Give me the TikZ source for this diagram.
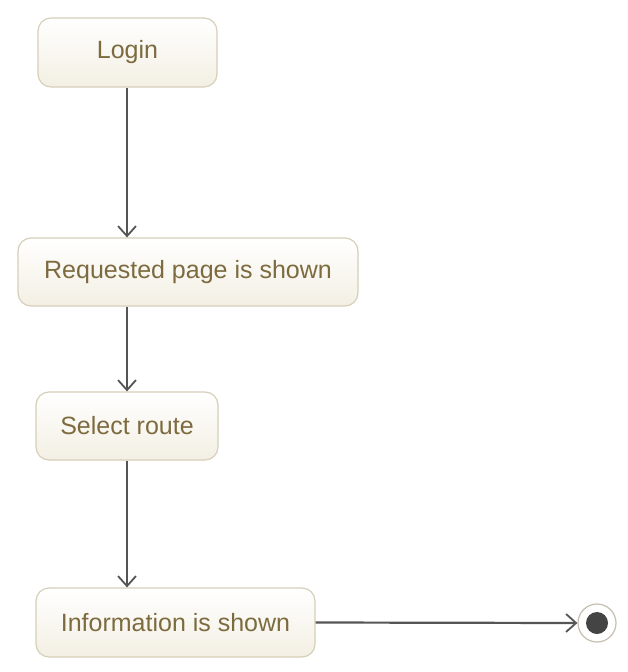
\documentclass[tikz,border=0pt]{standalone}
\usepackage{fontspec}
\setmainfont{Liberation Sans}
\usetikzlibrary{arrows.meta}
\definecolor{txt}{HTML}{7D6B3F}
\definecolor{bord}{HTML}{D6CFB9}
\definecolor{fillA}{HTML}{FFFFFF}
\definecolor{fillB}{HTML}{F3EFE3}
\definecolor{arr}{HTML}{555555}
\definecolor{dot}{HTML}{444444}
\tikzset{
  state/.style={draw=bord, line width=1.2pt, rounded corners=13pt, top color=fillA, bottom color=fillB,
    text=txt, font=\fontsize{25}{29}\selectfont, inner sep=0pt, anchor=center},
  flow/.style={draw=arr, line width=2.2pt, -{Straight Barb[length=10pt,width=18pt,line width=1.8pt]}},
}
\begin{document}
\begin{tikzpicture}[x=1pt,y=-1pt]
\useasboundingbox (0,0) rectangle (628,672);
\fill[white] (0,0) rectangle (628,672);
\node[state, minimum width=179pt, minimum height=69pt] (login) at (127.5,52.5) {Login};
\node[state, minimum width=340pt, minimum height=68pt] (req) at (188,272) {Requested page is shown};
\node[state, minimum width=182pt, minimum height=68pt] (sel) at (127,426) {Select route};
\node[state, minimum width=279pt, minimum height=69pt] (info) at (175.5,622.5) {Information is shown};
\node[circle, draw=bord!80!gray, line width=1.2pt, fill=white, minimum size=38pt, inner sep=0pt] (final) at (597,623) {};
\fill[dot] (final.center) circle (11pt);
\draw[flow] (login.south -| 127,0) -- (req.north -| 127,0);
\draw[flow] (req.south -| 127,0) -- (sel.north -| 127,0);
\draw[flow] (sel.south -| 127,0) -- (info.north -| 127,0);
\draw[flow] (info.east) -- (final.west);
\end{tikzpicture}
\end{document}
